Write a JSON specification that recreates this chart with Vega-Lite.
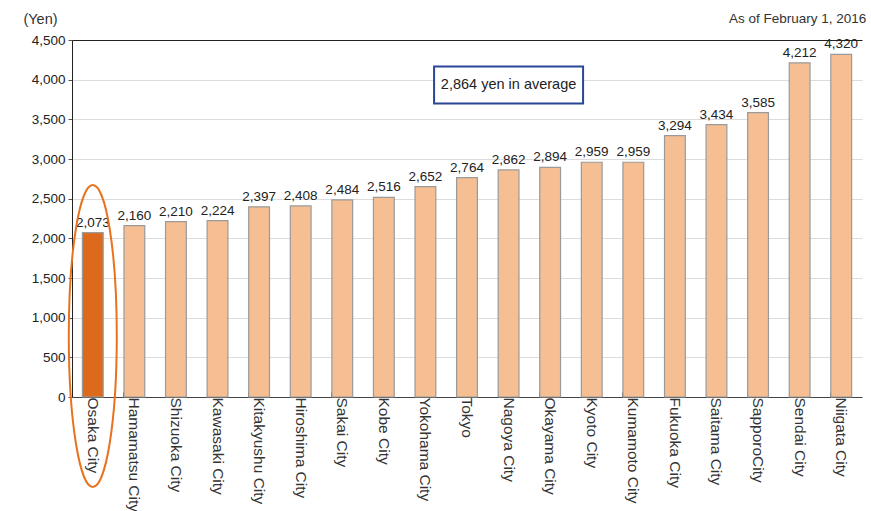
{
  "$schema": "https://vega.github.io/schema/vega-lite/v6.json",
  "autosize": "none",
  "width": 790,
  "height": 357,
  "padding": {"left": 72, "top": 40, "right": 9, "bottom": 114},
  "background": "white",
  "config": {"view": {"stroke": null}},
  "data": {"values": [
    {"city": "Osaka City", "yen": 2073, "hl": "yes"},
    {"city": "Hamamatsu City", "yen": 2160, "hl": "no"},
    {"city": "Shizuoka City", "yen": 2210, "hl": "no"},
    {"city": "Kawasaki City", "yen": 2224, "hl": "no"},
    {"city": "Kitakyushu City", "yen": 2397, "hl": "no"},
    {"city": "Hiroshima City", "yen": 2408, "hl": "no"},
    {"city": "Sakai City", "yen": 2484, "hl": "no"},
    {"city": "Kobe City", "yen": 2516, "hl": "no"},
    {"city": "Yokohama City", "yen": 2652, "hl": "no"},
    {"city": "Tokyo", "yen": 2764, "hl": "no"},
    {"city": "Nagoya City", "yen": 2862, "hl": "no"},
    {"city": "Okayama City", "yen": 2894, "hl": "no"},
    {"city": "Kyoto City", "yen": 2959, "hl": "no"},
    {"city": "Kumamoto City", "yen": 2959, "hl": "no"},
    {"city": "Fukuoka City", "yen": 3294, "hl": "no"},
    {"city": "Saitama City", "yen": 3434, "hl": "no"},
    {"city": "SapporoCity", "yen": 3585, "hl": "no"},
    {"city": "Sendai City", "yen": 4212, "hl": "no"},
    {"city": "Niigata City", "yen": 4320, "hl": "no"}
  ]},
  "encoding": {
    "x": {"field": "city", "type": "nominal", "sort": null,
      "scale": {"paddingInner": 0.5, "paddingOuter": 0.25},
      "axis": {"title": null, "labelAngle": 90, "labelAlign": "left", "labelBaseline": "middle", "labelFont": "Liberation Sans", "labelFontSize": 15.5, "labelColor": "#333", "labelPadding": 5, "bandPosition": 0, "tickSize": -5, "tickColor": "#555", "domainColor": "#444", "labelOverlap": false}},
    "y": {"field": "yen", "type": "quantitative",
      "scale": {"domain": [0, 4500], "nice": false},
      "axis": {"values": [0, 500, 1000, 1500, 2000, 2500, 3000, 3500, 4000, 4500], "format": ",.0f", "title": "(Yen)", "titleAngle": 0, "titleAlign": "center", "titleBaseline": "alphabetic", "titleX": -32, "titleY": -17, "titleFont": "Liberation Sans", "titleFontSize": 14.5, "titleFontWeight": "normal", "titleColor": "#333", "labelFont": "Liberation Sans", "labelFontSize": 13.5, "labelColor": "#222", "gridColor": {"condition": {"test": "datum.value === 4500", "value": "#222"}, "value": "#dcdcdc"}, "domainColor": "#222", "tickColor": "#555", "tickSize": 4, "labelPadding": 3}}
  },
  "layer": [
    {
      "mark": {"type": "bar", "stroke": "#9a9a9a", "strokeWidth": 1.2},
      "encoding": {
        "color": {"field": "hl", "type": "nominal", "scale": {"domain": ["yes", "no"], "range": ["#DD6A1C", "#F5BF93"]}, "legend": null}
      }
    },
    {
      "mark": {"type": "text", "dy": -10, "font": "Liberation Sans", "fontSize": 13.5, "color": "#222"},
      "encoding": {
        "text": {"field": "yen", "type": "quantitative", "format": ",.0f"}
      }
    },
    {
      "data": {"values": [{"city": "Osaka City", "center": 769}]},
      "mark": {"type": "point", "filled": false, "stroke": "#E8721F", "strokeWidth": 2, "opacity": 1,
        "shape": "M-0.159,0A0.159,1,0,1,0,0.159,0A0.159,1,0,1,0,-0.159,0Z", "size": 91204},
      "encoding": {"y": {"field": "center", "type": "quantitative"}}
    },
    {
      "data": {"values": [{"city": "Nagoya City", "center": 3933, "note": "2,864 yen in average"}]},
      "layer": [
        {
          "mark": {"type": "point", "filled": true, "fill": "white", "stroke": "#2A4797", "strokeWidth": 2, "opacity": 1, "fillOpacity": 1,
            "shape": "M-1,-0.248H1V0.248H-1Z", "size": 22201},
          "encoding": {"y": {"field": "center", "type": "quantitative"}}
        },
        {
          "mark": {"type": "text", "font": "Liberation Sans", "fontSize": 14.5, "color": "#222"},
          "encoding": {"y": {"field": "center", "type": "quantitative"}, "text": {"field": "note"}}
        }
      ]
    },
    {
      "data": {"values": [{"city": "Niigata City", "top": 4500, "note": "As of February 1, 2016"}]},
      "mark": {"type": "text", "font": "Liberation Sans", "fontSize": 13.5, "color": "#333", "align": "right", "baseline": "alphabetic", "dx": 25, "dy": -17},
      "encoding": {"y": {"field": "top", "type": "quantitative"}, "text": {"field": "note"}}
    }
  ]
}
